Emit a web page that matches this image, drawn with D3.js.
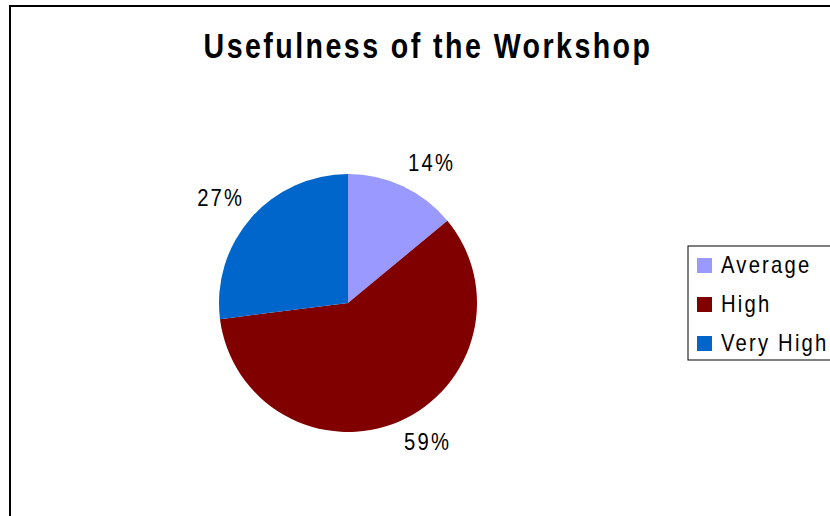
<!DOCTYPE html>
<html>
<head>
<meta charset="utf-8">
<script src="https://cdn.jsdelivr.net/npm/d3@7"></script>
<style>
    html, body { margin: 0; padding: 0; background: #fff; }
    svg { display: block; }
    text { font-family: "Liberation Sans", Arial, sans-serif; fill: #000; }
</style>
</head>
<body>
<svg width="830" height="516"></svg>
<script>
"use strict";

var title = "Usefulness of the Workshop";
var categories = ["Average", "High", "Very High"];
var values = [14, 59, 27]; // percent
var colors = ["#9999ff", "#800000", "#0066cc"];

var svg = d3.select("svg");
var width = 830;
var center = {x: 348, y: 303};
var radius = 129;
var narrow = 0.88; // squeeze glyphs, the original font is a narrow one

// chart frame (runs off the right and bottom edge)
svg.append("rect")
    .attr("x", 10)
    .attr("y", 6)
    .attr("width", width)
    .attr("height", 540)
    .attr("fill", "#fff")
    .attr("stroke", "#000")
    .attr("stroke-width", 2);

var titleText = svg.append("text")
    .attr("text-anchor", "middle")
    .attr("font-weight", "bold")
    .attr("font-size", 35)
    .attr("letter-spacing", 3)
    .text(title);
var titleScale = 449 / titleText.node().getComputedTextLength();
titleText.attr("transform",
        "translate(428,58) scale(" + titleScale + ",1)");

var pie = d3.pie().sort(null).value(function (d) {
    return d;
});
var arcs = pie(values);
var arc = d3.arc().innerRadius(0).outerRadius(radius);

var pieGroup = svg.append("g")
    .attr("transform", "translate(" + center.x + "," + center.y + ")");

pieGroup.selectAll("path")
    .data(arcs)
    .enter()
    .append("path")
    .attr("d", arc)
    .attr("fill", function (ignore, i) {
        return colors[i];
    });

// labels sit just outside the rim, anchored by quadrant
var labelArc = d3.arc().innerRadius(radius + 12).outerRadius(radius + 12);
var midAngle = function (d) {
    return (d.startAngle + d.endAngle) / 2;
};
pieGroup.selectAll("text")
    .data(arcs)
    .enter()
    .append("text")
    .attr("font-size", 23)
    .attr("letter-spacing", 2.5)
    .attr("text-anchor", function (d) {
        return Math.sin(midAngle(d)) >= 0 ? "start" : "end";
    })
    .attr("transform", function (d) {
        var c = labelArc.centroid(d);
        var y = Math.cos(midAngle(d)) > 0 ? c[1] - 4 : c[1] + 18;
        var x = Math.sin(midAngle(d)) >= 0 ? c[0] : c[0] + 2;
        return "translate(" + x + "," + y + ") scale(" + narrow + ",1)";
    })
    .text(function (d) {
        return d.data + "%";
    });

// legend
var legend = svg.append("g").attr("transform", "translate(688,246)");
legend.append("rect")
    .attr("x", 0)
    .attr("y", 0)
    .attr("width", 160)
    .attr("height", 114)
    .attr("fill", "#fff")
    .attr("stroke", "#000")
    .attr("stroke-width", 1);

var rows = legend.selectAll("g.row")
    .data(categories)
    .enter()
    .append("g")
    .attr("class", "row")
    .attr("transform", function (ignore, i) {
        return "translate(0," + (27 + i * 39) + ")";
    });
rows.append("rect")
    .attr("x", 9)
    .attr("y", -15)
    .attr("width", 15)
    .attr("height", 15)
    .attr("fill", function (ignore, i) {
        return colors[i];
    });
rows.append("text")
    .attr("transform", "translate(33,0) scale(" + narrow + ",1)")
    .attr("font-size", 23)
    .attr("letter-spacing", 2.5)
    .text(function (d) {
        return d;
    });
</script>
</body>
</html>
